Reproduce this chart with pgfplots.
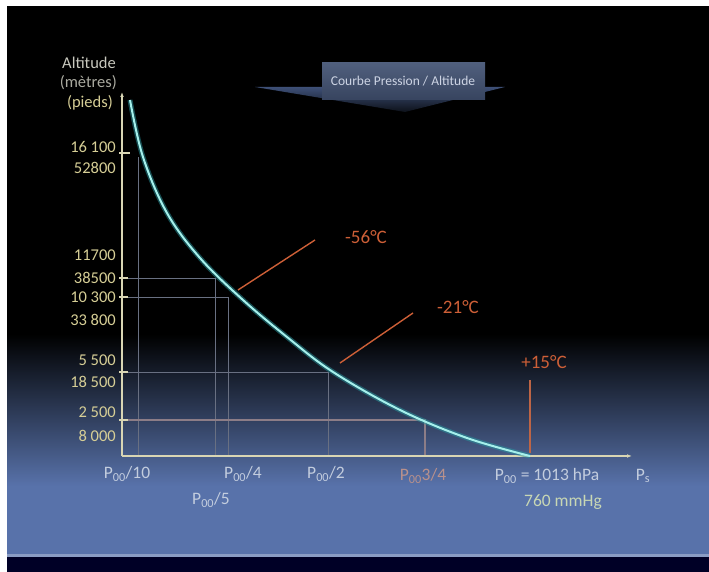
\documentclass[border=0pt]{standalone}
\usepackage{fontspec}
\setmainfont{Carlito}
\usepackage{pgfplots}
\pgfplotsset{compat=1.18}
\usetikzlibrary{arrows.meta}
\definecolor{axcol}{RGB}{217,214,180}
\definecolor{tickcol}{RGB}{214,206,150}
\definecolor{guide}{RGB}{105,112,130}
\definecolor{guideB}{RGB}{140,125,135}
\definecolor{curve}{RGB}{165,240,235}
\definecolor{glow}{RGB}{40,150,160}
\definecolor{tempcol}{RGB}{205,95,55}
\definecolor{bluebg}{RGB}{88,114,170}
\definecolor{xlab}{RGB}{195,205,222}
\tikzset{lab/.style={font=\fontsize{16.5}{18}\selectfont, inner sep=1pt},
         xl/.style={font=\fontsize{17.5}{19}\selectfont, inner sep=1pt},
         tl/.style={font=\fontsize{19}{21}\selectfont, inner sep=1pt}}
\begin{document}
\begin{tikzpicture}
\begin{axis}[scale only axis, width=709pt, height=572pt,
  xmin=-122, xmax=587, ymin=-116, ymax=456, hide axis, clip=false]
% background
\fill[white] (axis cs:-122,-116) rectangle (axis cs:587,456);
\fill[black] (axis cs:-115,-101) rectangle (axis cs:587,450);
\fill[top color=black, bottom color=bluebg, shading angle=0] (axis cs:-115,-30) rectangle (axis cs:587,122);
\fill[bluebg] (axis cs:-115,-98) rectangle (axis cs:587,-30);
\fill[bluebg!70!white] (axis cs:-115,-101) rectangle (axis cs:587,-98);
\fill[black!85!blue] (axis cs:-115,-116) rectangle (axis cs:587,-101);
% title banner
\fill[top color=black!30!bluebg, bottom color=black!85!bluebg] (axis cs:133,369) -- (axis cs:383,369) -- (axis cs:283,344) -- cycle;
\fill[top color={rgb,255:red,80;green,95;blue,125}, bottom color={rgb,255:red,55;green,68;blue,95}] (axis cs:200,356) rectangle (axis cs:363,393);
\node[font=\fontsize{13.5}{15}\selectfont, text={rgb,255:red,205;green,212;blue,228}] at (axis cs:281,375) {Courbe Pression / Altitude};
% guide lines
\addplot[guide, line width=0.8pt] coordinates {(16,0) (16,299)};
\addplot[guide, line width=0.8pt] coordinates {(0,178) (93,178) (93,0)};
\addplot[guide, line width=0.8pt] coordinates {(0,159) (106,159) (106,0)};
\addplot[guide, line width=0.8pt] coordinates {(0,84) (206,84) (206,0)};
\addplot[guideB, line width=1.2pt] coordinates {(0,36) (303,36) (303,0)};
% axes
\addplot[axcol, line width=1.5pt, -{Latex[length=5pt]}] coordinates {(0,0) (0,364)};
\addplot[axcol, line width=1.5pt, -{Latex[length=5pt]}] coordinates {(0,0) (510,0)};
% y ticks
\addplot[axcol, line width=1.2pt] coordinates {(-3,303) (8,303)};
\addplot[axcol, line width=1.2pt] coordinates {(-3,178) (6,178)};
\addplot[axcol, line width=1.2pt] coordinates {(-3,159) (6,159)};
\addplot[axcol, line width=1.2pt] coordinates {(-3,84) (6,84)};
\addplot[axcol, line width=1.2pt] coordinates {(-3,36) (6,36)};
% curve
\addplot[glow, opacity=0.5, line width=5pt, smooth, tension=0.6] coordinates {
(8,356) (21,299) (45,243) (78,198) (121,156) (165,119) (211,84) (278,46) (345,18) (408,0)};
\addplot[curve, line width=2pt, smooth, tension=0.6] coordinates {
(8,356) (21,299) (45,243) (78,198) (121,156) (165,119) (211,84) (278,46) (345,18) (408,0)};
% temperature arrows
\addplot[tempcol, line width=1.4pt] coordinates {(116,166) (193,216)};
\addplot[tempcol, line width=1.4pt] coordinates {(218,93) (291,143)};
\addplot[tempcol!80!gray, line width=1.6pt] coordinates {(408,3) (408,76)};
\node[tl, text=tempcol] at (axis cs:244,219) {-56°C};
\node[tl, text=tempcol] at (axis cs:336,149) {-21°C};
\node[tl, text=tempcol] at (axis cs:422,94) {+15°C};
% y axis title
\node[lab, anchor=east, text={rgb,255:red,200;green,200;blue,190}] at (axis cs:-5,393) {Altitude};
\node[lab, anchor=east, text={rgb,255:red,170;green,170;blue,160}] at (axis cs:-4,373) {(mètres)};
\node[lab, anchor=east, text=tickcol] at (axis cs:-8,353) {(pieds)};
% y tick labels
\node[lab, anchor=east, text=tickcol] at (axis cs:-5,309) {16 100};
\node[lab, anchor=east, text=tickcol] at (axis cs:-5,288) {52800};
\node[lab, anchor=east, text=tickcol] at (axis cs:-5,201) {11700};
\node[lab, anchor=east, text=tickcol] at (axis cs:-5,178) {38500};
\node[lab, anchor=east, text=tickcol] at (axis cs:-5,159) {10 300};
\node[lab, anchor=east, text=tickcol] at (axis cs:-5,136) {33 800};
\node[lab, anchor=east, text=tickcol] at (axis cs:-5,96) {5 500};
\node[lab, anchor=east, text=tickcol] at (axis cs:-5,74) {18 500};
\node[lab, anchor=east, text=tickcol] at (axis cs:-5,44) {2 500};
\node[lab, anchor=east, text=tickcol] at (axis cs:-5,20) {8 000};
% x labels
\node[xl, text=xlab] at (axis cs:5,-18) {P\textsubscript{00}/10};
\node[xl, text=xlab] at (axis cs:121,-18) {P\textsubscript{00}/4};
\node[xl, text=xlab] at (axis cs:204,-18) {P\textsubscript{00}/2};
\node[xl, text={rgb,255:red,185;green,145;blue,140}] at (axis cs:301,-20) {P\textsubscript{00}3/4};
\node[xl, text=xlab] at (axis cs:425,-20) {P\textsubscript{00} = 1013 hPa};
\node[xl, text=xlab] at (axis cs:521,-20) {P\textsubscript{s}};
\node[xl, text=xlab] at (axis cs:89,-44) {P\textsubscript{00}/5};
\node[xl, text={rgb,255:red,200;green,215;blue,180}] at (axis cs:441,-46) {760 mmHg};
\end{axis}
\end{tikzpicture}
\end{document}
